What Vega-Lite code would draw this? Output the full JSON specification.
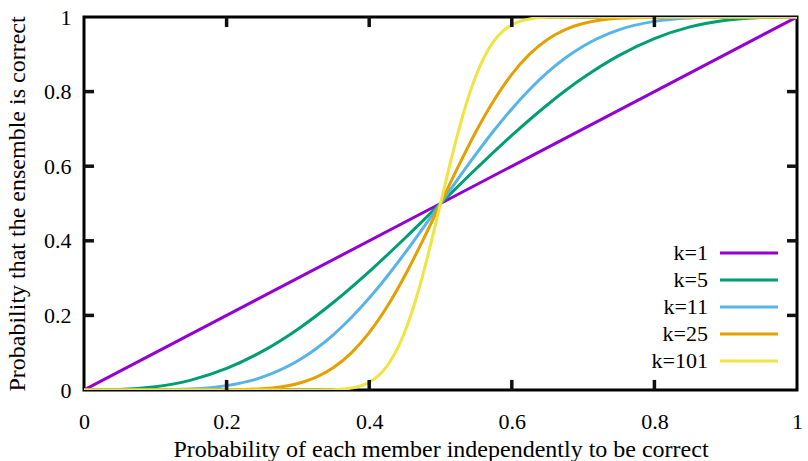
{
  "$schema": "https://vega.github.io/schema/vega-lite/v6.json",
  "width": 713,
  "height": 373,
  "autosize": {"type": "none"},
  "padding": {"left": 84, "top": 17, "right": 11, "bottom": 71},
  "background": "white",
  "config": {
    "view": {"stroke": "black", "strokeWidth": 3},
    "font": "Liberation Serif",
    "axis": {
      "grid": false,
      "domain": false,
      "ticks": false,
      "labelFlush": false,
      "labelColor": "black",
      "labelFont": "Liberation Serif",
      "labelFontSize": 22,
      "titleFont": "Liberation Serif",
      "titleFontSize": 24,
      "titleFontWeight": "normal",
      "titleColor": "black"
    }
  },
  "datasets": {
    "tickvals": [
      {"v": 0.2}, {"v": 0.4}, {"v": 0.6}, {"v": 0.8}
    ],
    "curves": [
      {"k": "k=1", "p": 0, "y": 0},
      {"k": "k=1", "p": 0.5, "y": 0.5},
      {"k": "k=1", "p": 1, "y": 1},
      {"k": "k=5", "p": 0, "y": 0},
      {"k": "k=5", "p": 0.05, "y": 0.0012},
      {"k": "k=5", "p": 0.1, "y": 0.0086},
      {"k": "k=5", "p": 0.15, "y": 0.0266},
      {"k": "k=5", "p": 0.2, "y": 0.0579},
      {"k": "k=5", "p": 0.25, "y": 0.1035},
      {"k": "k=5", "p": 0.3, "y": 0.1631},
      {"k": "k=5", "p": 0.35, "y": 0.2352},
      {"k": "k=5", "p": 0.4, "y": 0.3174},
      {"k": "k=5", "p": 0.45, "y": 0.4069},
      {"k": "k=5", "p": 0.5, "y": 0.5},
      {"k": "k=5", "p": 0.55, "y": 0.5931},
      {"k": "k=5", "p": 0.6, "y": 0.6826},
      {"k": "k=5", "p": 0.65, "y": 0.7648},
      {"k": "k=5", "p": 0.7, "y": 0.8369},
      {"k": "k=5", "p": 0.75, "y": 0.8965},
      {"k": "k=5", "p": 0.8, "y": 0.9421},
      {"k": "k=5", "p": 0.85, "y": 0.9734},
      {"k": "k=5", "p": 0.9, "y": 0.9914},
      {"k": "k=5", "p": 0.95, "y": 0.9988},
      {"k": "k=5", "p": 1, "y": 1},
      {"k": "k=11", "p": 0, "y": 0},
      {"k": "k=11", "p": 0.05, "y": 0},
      {"k": "k=11", "p": 0.1, "y": 0.0003},
      {"k": "k=11", "p": 0.15, "y": 0.0027},
      {"k": "k=11", "p": 0.2, "y": 0.0117},
      {"k": "k=11", "p": 0.25, "y": 0.0343},
      {"k": "k=11", "p": 0.3, "y": 0.0782},
      {"k": "k=11", "p": 0.325, "y": 0.11},
      {"k": "k=11", "p": 0.35, "y": 0.1487},
      {"k": "k=11", "p": 0.375, "y": 0.1943},
      {"k": "k=11", "p": 0.4, "y": 0.2465},
      {"k": "k=11", "p": 0.425, "y": 0.3044},
      {"k": "k=11", "p": 0.45, "y": 0.3669},
      {"k": "k=11", "p": 0.475, "y": 0.4326},
      {"k": "k=11", "p": 0.5, "y": 0.5},
      {"k": "k=11", "p": 0.525, "y": 0.5674},
      {"k": "k=11", "p": 0.55, "y": 0.6331},
      {"k": "k=11", "p": 0.575, "y": 0.6956},
      {"k": "k=11", "p": 0.6, "y": 0.7535},
      {"k": "k=11", "p": 0.625, "y": 0.8057},
      {"k": "k=11", "p": 0.65, "y": 0.8513},
      {"k": "k=11", "p": 0.675, "y": 0.89},
      {"k": "k=11", "p": 0.7, "y": 0.9218},
      {"k": "k=11", "p": 0.75, "y": 0.9657},
      {"k": "k=11", "p": 0.8, "y": 0.9883},
      {"k": "k=11", "p": 0.85, "y": 0.9973},
      {"k": "k=11", "p": 0.9, "y": 0.9997},
      {"k": "k=11", "p": 0.95, "y": 1},
      {"k": "k=11", "p": 1, "y": 1},
      {"k": "k=25", "p": 0, "y": 0},
      {"k": "k=25", "p": 0.1, "y": 0},
      {"k": "k=25", "p": 0.15, "y": 0},
      {"k": "k=25", "p": 0.2, "y": 0.0004},
      {"k": "k=25", "p": 0.25, "y": 0.0034},
      {"k": "k=25", "p": 0.3, "y": 0.0175},
      {"k": "k=25", "p": 0.325, "y": 0.0339},
      {"k": "k=25", "p": 0.35, "y": 0.0605},
      {"k": "k=25", "p": 0.375, "y": 0.0997},
      {"k": "k=25", "p": 0.4, "y": 0.1538},
      {"k": "k=25", "p": 0.425, "y": 0.2231},
      {"k": "k=25", "p": 0.45, "y": 0.3063},
      {"k": "k=25", "p": 0.475, "y": 0.4003},
      {"k": "k=25", "p": 0.5, "y": 0.5},
      {"k": "k=25", "p": 0.525, "y": 0.5997},
      {"k": "k=25", "p": 0.55, "y": 0.6937},
      {"k": "k=25", "p": 0.575, "y": 0.7769},
      {"k": "k=25", "p": 0.6, "y": 0.8462},
      {"k": "k=25", "p": 0.625, "y": 0.9003},
      {"k": "k=25", "p": 0.65, "y": 0.9395},
      {"k": "k=25", "p": 0.675, "y": 0.9661},
      {"k": "k=25", "p": 0.7, "y": 0.9825},
      {"k": "k=25", "p": 0.75, "y": 0.9966},
      {"k": "k=25", "p": 0.8, "y": 0.9996},
      {"k": "k=25", "p": 0.85, "y": 1},
      {"k": "k=25", "p": 0.9, "y": 1},
      {"k": "k=25", "p": 1, "y": 1},
      {"k": "k=101", "p": 0, "y": 0},
      {"k": "k=101", "p": 0.25, "y": 0},
      {"k": "k=101", "p": 0.3, "y": 0},
      {"k": "k=101", "p": 0.35, "y": 0.001},
      {"k": "k=101", "p": 0.375, "y": 0.0052},
      {"k": "k=101", "p": 0.4, "y": 0.0209},
      {"k": "k=101", "p": 0.4125, "y": 0.0378},
      {"k": "k=101", "p": 0.425, "y": 0.0643},
      {"k": "k=101", "p": 0.4375, "y": 0.1031},
      {"k": "k=101", "p": 0.45, "y": 0.1562},
      {"k": "k=101", "p": 0.4625, "y": 0.2246},
      {"k": "k=101", "p": 0.475, "y": 0.3071},
      {"k": "k=101", "p": 0.4875, "y": 0.4006},
      {"k": "k=101", "p": 0.5, "y": 0.5},
      {"k": "k=101", "p": 0.5125, "y": 0.5994},
      {"k": "k=101", "p": 0.525, "y": 0.6929},
      {"k": "k=101", "p": 0.5375, "y": 0.7754},
      {"k": "k=101", "p": 0.55, "y": 0.8438},
      {"k": "k=101", "p": 0.5625, "y": 0.8969},
      {"k": "k=101", "p": 0.575, "y": 0.9357},
      {"k": "k=101", "p": 0.5875, "y": 0.9622},
      {"k": "k=101", "p": 0.6, "y": 0.9791},
      {"k": "k=101", "p": 0.625, "y": 0.9948},
      {"k": "k=101", "p": 0.65, "y": 0.999},
      {"k": "k=101", "p": 0.7, "y": 1},
      {"k": "k=101", "p": 0.75, "y": 1},
      {"k": "k=101", "p": 1, "y": 1}
    ]
  },
  "layer": [
    {
      "data": {"name": "curves"},
      "mark": {"type": "line", "strokeWidth": 3, "interpolate": "monotone", "clip": true},
      "encoding": {
        "x": {
          "field": "p", "type": "quantitative",
          "scale": {"domain": [0, 1], "nice": false, "zero": false},
          "axis": {"orient": "bottom", "values": [0, 0.2, 0.4, 0.6, 0.8, 1], "format": "~g", "labelPadding": 21, "title": "Probability of each member independently to be correct", "titlePadding": 5}
        },
        "y": {
          "field": "y", "type": "quantitative",
          "scale": {"domain": [0, 1], "nice": false, "zero": false},
          "axis": {"orient": "left", "values": [0, 0.2, 0.4, 0.6, 0.8, 1], "format": "~g", "labelPadding": 13, "title": "Probability that the ensemble is correct", "titlePadding": 14}
        },
        "color": {
          "field": "k", "type": "nominal",
          "scale": {"domain": ["k=1", "k=5", "k=11", "k=25", "k=101"], "range": ["#9400d3", "#009e73", "#56b4e9", "#e69f00", "#f0e442"]},
          "legend": {
            "title": null,
            "orient": "none",
            "legendX": 649,
            "legendY": 220,
            "symbolType": "M-2,0H2",
            "symbolSize": 841,
            "symbolStrokeWidth": 3,
            "labelAlign": "right",
            "labelOffset": -57,
            "labelFont": "Liberation Serif",
            "labelFontSize": 22,
            "labelColor": "black",
            "rowPadding": 0
          }
        }
      }
    },
    {
      "data": {"name": "tickvals"},
      "mark": {"type": "rule", "color": "#111111", "strokeWidth": 3.5, "opacity": 1},
      "encoding": {
        "x": {"field": "v", "type": "quantitative", "axis": null},
        "y": {"datum": 0, "type": "quantitative", "axis": null},
        "y2": {"datum": 0.027}
      }
    },
    {
      "data": {"name": "tickvals"},
      "mark": {"type": "rule", "color": "#111111", "strokeWidth": 3.5, "opacity": 1},
      "encoding": {
        "x": {"field": "v", "type": "quantitative", "axis": null},
        "y": {"datum": 1, "type": "quantitative", "axis": null},
        "y2": {"datum": 0.973}
      }
    },
    {
      "data": {"name": "tickvals"},
      "mark": {"type": "rule", "color": "#111111", "strokeWidth": 3.5, "opacity": 1},
      "encoding": {
        "y": {"field": "v", "type": "quantitative", "axis": null},
        "x": {"datum": 0, "type": "quantitative", "axis": null},
        "x2": {"datum": 0.014}
      }
    },
    {
      "data": {"name": "tickvals"},
      "mark": {"type": "rule", "color": "#111111", "strokeWidth": 3.5, "opacity": 1},
      "encoding": {
        "y": {"field": "v", "type": "quantitative", "axis": null},
        "x": {"datum": 1, "type": "quantitative", "axis": null},
        "x2": {"datum": 0.986}
      }
    }
  ],
  "resolve": {"axis": {"x": "independent", "y": "independent"}}
}
